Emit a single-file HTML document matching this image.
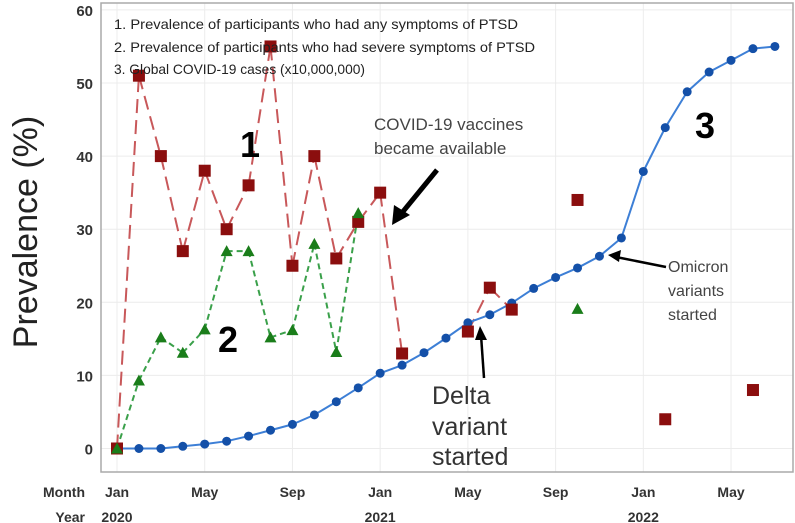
<!DOCTYPE html>
<html><head><meta charset="utf-8"><style>
body{margin:0;background:#fff}
svg{display:block;font-family:"Liberation Sans","DejaVu Sans",sans-serif}
</style></head><body>
<svg id="c" width="795" height="523"></svg>
<script>
const months=["Jan","","","","May","","","","Sep","","","","Jan","","","","May","","","","Sep","","","","Jan","","","","May","",""];
const years=[[0,"2020"],[12,"2021"],[24,"2022"]];
const yTicks=[0,10,20,30,40,50,60];
const anySym=[0,51,40,27,38,30,36,55,25,40,26,31,35,13,null,null,16,22,19,null,null,34,null,null,null,4,null,null,null,8,null];
const severeSym=[0,9.3,15.2,13.1,16.3,27,27,15.2,16.2,28,13.2,32.2,null,null,null,null,null,null,null,null,null,19.1,null,null,null,null,null,null,null,null,null];
const cases=[0,0,0,0.3,0.6,1,1.7,2.5,3.3,4.6,6.4,8.3,10.3,11.4,13.1,15.1,17.2,18.3,19.9,21.9,23.4,24.7,26.3,28.8,37.9,43.9,48.8,51.5,53.1,54.7,55];
const NS="http://www.w3.org/2000/svg",svg=document.getElementById('c');
const X=m=>117+m*21.93, Y=v=>448.5-v*7.31;
function el(t,a,p){const e=document.createElementNS(NS,t);for(const k in a)e.setAttribute(k,a[k]);(p||svg).appendChild(e);return e;}
yTicks.forEach(v=>{const g=el('line',{x1:101,x2:793,y1:Y(v),y2:Y(v),stroke:'#ececec'});

const t=el('text',{x:93,y:Y(v)+6,'text-anchor':'end','font-size':15,'font-weight':'bold',fill:'#333'});t.textContent=v;
});
months.forEach((m,i)=>{if(!m)return;const g=el('line',{x1:X(i),x2:X(i),y1:3,y2:472,stroke:'#ececec'});

const t=el('text',{x:X(i),y:497,'text-anchor':'middle','font-size':14,'font-weight':'bold',fill:'#333'});t.textContent=m;
});
years.forEach(([i,y])=>{const t=el('text',{x:X(i),y:522,'text-anchor':'middle','font-size':14,'font-weight':'bold',fill:'#333'});t.textContent=y;
});
const fr=el('path',{d:'M101,3 H793 V472 H101 Z',fill:'none',stroke:'#aaa','stroke-width':1.5});

function lines(arr,col,dash,w,name){for(let i=1;i<arr.length;i++){if(arr[i]==null||arr[i-1]==null)continue;
const l=el('line',{x1:X(i-1),y1:Y(arr[i-1]),x2:X(i),y2:Y(arr[i]),stroke:col,'stroke-width':w,'stroke-dasharray':dash});
}}
lines(anySym,'#c8585a','14 7',2,'any-symptoms-line');
lines(severeSym,'#3aa04a','6 4',2,'severe-symptoms-line');
lines(cases,'#3d7fd6','',2,'cases-line');
cases.forEach((v,i)=>{const c=el('circle',{cx:X(i),cy:Y(v),r:4.5,fill:'#1450a8'});
});
anySym.forEach((v,i)=>{if(v==null)return;const r=el('rect',{x:X(i)-6,y:Y(v)-6,width:12,height:12,fill:'#8b0e0e'});
});
severeSym.forEach((v,i)=>{if(v==null)return;const x=X(i),y=Y(v);const p=el('polygon',{points:`${x},${y-6} ${x-6},${y+5} ${x+6},${y+5}`,fill:'#1a7d1a'});
});
</script>
<svg width="795" height="523" style="position:absolute;left:0;top:0" font-family="Liberation Sans, DejaVu Sans, sans-serif">
<text transform="translate(37,232) rotate(-90)" text-anchor="middle" font-size="34" fill="#222">Prevalence (%)</text>
<text x="85" y="497" text-anchor="end" font-size="14" font-weight="bold" fill="#333">Month</text>
<text x="85" y="522" text-anchor="end" font-size="14" font-weight="bold" fill="#333">Year</text>
<g font-size="14" fill="#222">
<text x="114" y="29" textLength="404" lengthAdjust="spacingAndGlyphs">1. Prevalence of participants who had any symptoms of PTSD</text>
<text x="114" y="52" textLength="421" lengthAdjust="spacingAndGlyphs">2. Prevalence of participants who had severe symptoms of PTSD</text>
<text x="114" y="74" textLength="251" lengthAdjust="spacingAndGlyphs">3. Global COVID-19 cases (x10,000,000)</text></g>
<text x="240" y="157" font-size="36" font-weight="bold">1</text>
<text x="218" y="352" font-size="36" font-weight="bold">2</text>
<text x="695" y="138" font-size="36" font-weight="bold">3</text>
<g font-size="17" fill="#444">
<text x="374" y="130">COVID-19 vaccines</text><text x="374" y="154">became available</text></g>
<line x1="437" y1="170" x2="401" y2="214" stroke="#000" stroke-width="5"/>
<polygon points="392,225 394,205 410,215" fill="#000"/>
<g font-size="25" fill="#333">
<text x="432" y="404">Delta</text><text x="432" y="435">variant</text><text x="432" y="465">started</text></g>
<line x1="484" y1="378" x2="481" y2="335" stroke="#000" stroke-width="2.5"/>
<polygon points="480,326 475,340 487,340" fill="#000"/>
<g font-size="16" fill="#444">
<text x="668" y="272">Omicron</text><text x="668" y="296">variants</text><text x="668" y="320">started</text></g>
<line x1="666" y1="267" x2="616" y2="257" stroke="#000" stroke-width="2.5"/>
<polygon points="608,255 621,250 619,262" fill="#000"/>
</svg>
</body></html>
